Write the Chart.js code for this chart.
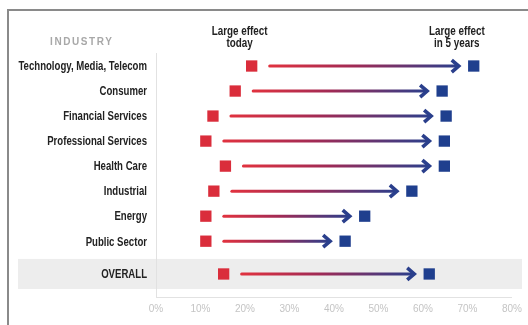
<!DOCTYPE html>
<html>
<head>
<meta charset="utf-8">
<script src="https://cdn.jsdelivr.net/npm/chart.js@4/dist/chart.umd.min.js"></script>
<style>
  html, body { margin: 0; padding: 0; background: #fff; }
  #wrap { width: 528px; height: 325px; position: relative; }
</style>
</head>
<body>
<div id="wrap"><canvas id="chart"></canvas></div>
<script>
var industrias = [
  "Technology, Media, Telecom",
  "Consumer",
  "Financial Services",
  "Professional Services",
  "Health Care",
  "Industrial",
  "Energy",
  "Public Sector",
  "OVERALL",
];
var efeitoHoje = [21.5, 17.8, 12.8, 11.2, 15.6, 13.0, 11.2, 11.2, 15.2];
var efeito5Anos = [71.4, 64.3, 65.2, 64.8, 64.8, 57.5, 46.9, 42.5, 61.4];
var ticksX = [0, 10, 20, 30, 40, 50, 60, 70, 80];

var corVermelho = "#da2d3b";
var corAzul = "#1f3f8e";
var fonteBold = "bold 12px 'Liberation Sans', Arial, sans-serif";

// posição de cada linha (OVERALL fica um pouco mais afastado)
var linhas = industrias.map(function (nome, i) {
  return i < industrias.length - 1 ? i : i + 0.31;
});

function pontos(valores) {
  return valores.map(function (v, i) {
    return { x: v, y: linhas[i] };
  });
}

// texto "condensado": escala horizontal
function textoEstreito(ctx, texto, x, y, alinhamento, escala) {
  ctx.save();
  ctx.translate(x, y);
  ctx.scale(escala, 1);
  ctx.textAlign = alinhamento;
  ctx.fillText(texto, 0, 0);
  ctx.restore();
}

// Moldura, faixa do OVERALL, setas, rótulos e cabeçalhos
var pluginDesenho = {
  id: "desenho",
  beforeDatasetsDraw: function (chart) {
    var ctx = chart.ctx;
    var xS = chart.scales.x;
    var yS = chart.scales.y;

    // faixa cinza do OVERALL
    var yo = yS.getPixelForValue(linhas[linhas.length - 1]);
    ctx.save();
    ctx.fillStyle = "rgba(225,225,225,0.6)";
    ctx.fillRect(18, yo - 15, 504, 30);
    ctx.restore();

    // setas com gradiente
    for (var i = 0; i < industrias.length; i++) {
      var y = yS.getPixelForValue(linhas[i]);
      var x0 = xS.getPixelForValue(efeitoHoje[i]) + 18;
      var x1 = xS.getPixelForValue(efeito5Anos[i]) - 15;
      var grad = ctx.createLinearGradient(x0, 0, x1, 0);
      grad.addColorStop(0, "#e0323f");
      grad.addColorStop(0.45, "#a02a55");
      grad.addColorStop(1, "#2a3f8c");
      ctx.save();
      ctx.strokeStyle = grad;
      ctx.lineWidth = 3;
      ctx.lineCap = "round";
      ctx.beginPath();
      ctx.moveTo(x0, y);
      ctx.lineTo(x1 - 2, y);
      ctx.stroke();
      ctx.strokeStyle = "#2a3f8c";
      ctx.lineWidth = 3.6;
      ctx.lineJoin = "miter";
      ctx.lineCap = "butt";
      ctx.beginPath();
      ctx.moveTo(x1 - 7, y - 6);
      ctx.lineTo(x1, y);
      ctx.lineTo(x1 - 7, y + 6);
      ctx.stroke();
      ctx.restore();
    }
  },
  afterDraw: function (chart) {
    var ctx = chart.ctx;
    var xS = chart.scales.x;
    var yS = chart.scales.y;
    ctx.save();

    // moldura
    ctx.strokeStyle = "#8a8a8a";
    ctx.lineWidth = 2;
    ctx.beginPath();
    ctx.moveTo(8, 325);
    ctx.lineTo(8, 10);
    ctx.lineTo(528, 10);
    ctx.stroke();

    // rótulos das indústrias
    ctx.fillStyle = "#222";
    ctx.font = fonteBold;
    ctx.textBaseline = "middle";
    for (var i = 0; i < industrias.length; i++) {
      textoEstreito(ctx, industrias[i], 147, yS.getPixelForValue(linhas[i]) + 1, "right", 0.8);
    }

    // INDUSTRY
    ctx.fillStyle = "#a8a8a8";
    ctx.font = "bold 10px 'Liberation Sans', Arial, sans-serif";
    ctx.textAlign = "left";
    if ("letterSpacing" in ctx) ctx.letterSpacing = "1.6px";
    ctx.fillText("INDUSTRY", 50, 42);
    if ("letterSpacing" in ctx) ctx.letterSpacing = "0px";

    // cabeçalhos
    ctx.fillStyle = "#222";
    ctx.font = fonteBold;
    var xh = xS.getPixelForValue(18.8);
    textoEstreito(ctx, "Large effect", xh, 32, "center", 0.82);
    textoEstreito(ctx, "today", xh, 44, "center", 0.82);
    var xf = xS.getPixelForValue(67.6);
    textoEstreito(ctx, "Large effect", xf, 32, "center", 0.82);
    textoEstreito(ctx, "in 5 years", xf, 44, "center", 0.82);
    ctx.restore();
  },
};

new Chart(document.getElementById("chart"), {
  type: "scatter",

  data: {
    datasets: [
      {
        label: "Large effect today",
        data: pontos(efeitoHoje),
        pointStyle: "rect",
        pointRadius: 8,
        pointHoverRadius: 8,
        pointBorderWidth: 0,
        backgroundColor: corVermelho,
        borderColor: corVermelho,
      },
      {
        label: "Large effect in 5 years",
        data: pontos(efeito5Anos),
        pointStyle: "rect",
        pointRadius: 8,
        pointHoverRadius: 8,
        pointBorderWidth: 0,
        backgroundColor: corAzul,
        borderColor: corAzul,
      },
    ],
  },

  options: {
    responsive: true,
    maintainAspectRatio: false,
    animation: false,

    layout: {
      padding: { left: 0, right: 10, top: 53, bottom: 0 },
    },

    plugins: {
      legend: { display: false },
      tooltip: { enabled: false },
    },

    scales: {
      x: {
        type: "linear",
        min: 0,
        max: 80,
        afterBuildTicks: function (axis) {
          axis.ticks = ticksX.map(function (v) {
            return { value: v };
          });
        },
        afterFit: function (axis) {
          axis.height = 28;
        },
        grid: { display: false, drawTicks: false },
        border: { display: true, color: "#e2e2e2", width: 1 },
        ticks: {
          padding: 6,
          color: "#c4c4c4",
          font: { family: "'Liberation Sans', Arial, sans-serif", size: 10 },
          callback: function (value) {
            return value + "%";
          },
        },
      },

      y: {
        type: "linear",
        reverse: true,
        min: -0.52,
        max: 9.23,
        afterBuildTicks: function (axis) {
          axis.ticks = linhas.map(function (v) {
            return { value: v };
          });
        },
        afterFit: function (axis) {
          axis.width = 156;
        },
        grid: { display: false, drawTicks: false },
        border: { display: true, color: "#e2e2e2", width: 1 },
        ticks: {
          display: false,
        },
      },
    },
  },
  plugins: [pluginDesenho],
});
</script>
</body>
</html>
